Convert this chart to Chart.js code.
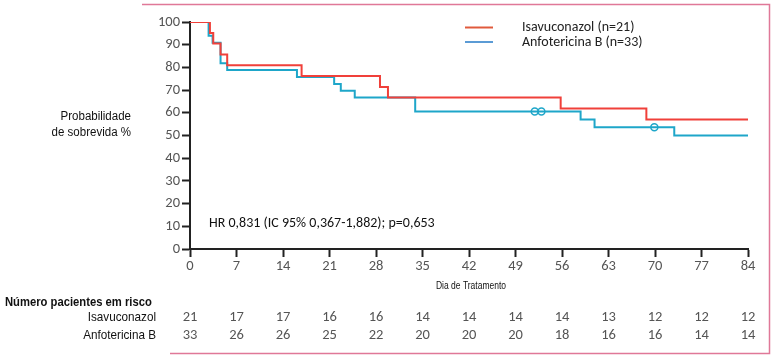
<!DOCTYPE html>
<html><head><meta charset="utf-8">
<script src="https://cdn.jsdelivr.net/npm/chart.js@4"></script>
<style>html,body{margin:0;padding:0;background:#fff}#wrap{position:relative;width:773px;height:360px}</style>
</head><body><div id="wrap"><canvas id="c" width="773" height="360"></canvas></div>
<script>
// ---- data ----
const isaDays = [0, 3, 3.5, 4.6, 5.6, 16.8, 28.6, 29.8, 55.8, 68.7, 84];
const isaSurv = [100, 95.2, 90.5, 85.7, 81.0, 76.2, 71.4, 66.7, 61.9, 57.1, 57.1];
const anfDays = [0, 2.8, 3.4, 4.6, 5.6, 16.1, 21.7, 22.7, 24.8, 33.9, 58.8, 60.9, 72.9, 84];
const anfSurv = [100, 93.9, 90.9, 81.8, 78.8, 75.8, 72.7, 69.7, 66.7, 60.6, 57.0, 53.6, 50.0, 50.0];
const anfCensorDays = [51.9, 52.9, 69.9];
const anfCensorSurv = [60.6, 60.6, 53.6];
const xTicks = [0, 7, 14, 21, 28, 35, 42, 49, 56, 63, 70, 77, 84];
const yTicks = [0, 10, 20, 30, 40, 50, 60, 70, 80, 90, 100];
const riskIsa = [21, 17, 17, 16, 16, 14, 14, 14, 14, 13, 12, 12, 12];
const riskAnf = [33, 26, 26, 25, 22, 20, 20, 20, 18, 16, 16, 14, 14];
const seriesNames = ['Isavuconazol (n=21)', 'Anfotericina B (n=33)'];
const rowNames = ['Isavuconazol', 'Anfotericina B'];
const hrText = 'HR 0,831 (IC 95% 0,367-1,882); p=0,653';

const RED = '#f0403a', BLUE = '#1ea6c9';
const TICKFONT = 'Carlito, Lato, "Open Sans", sans-serif';
const SANS = '"Liberation Sans", Arial, sans-serif';

const toXY = (xs, ys) => xs.map((x, i) => ({x, y: ys[i]}));

function narrowText(ctx, text, x, y, align, font, sx) {
  ctx.save();
  ctx.font = font;
  ctx.textAlign = align;
  ctx.textBaseline = 'middle';
  ctx.translate(x, y);
  ctx.scale(sx, 1);
  ctx.fillText(text, 0, 0);
  ctx.restore();
}

const deco = {
  id: 'deco',
  afterDraw(chart) {
    const ctx = chart.ctx;
    const xs = chart.scales.x;
    ctx.save();
    // legend
    const leg = [['#e05a3c', 27.5], ['#5b9bd5', 42]];
    ctx.lineWidth = 2;
    leg.forEach((l, i) => {
      ctx.strokeStyle = l[0];
      ctx.beginPath(); ctx.moveTo(465, l[1]); ctx.lineTo(493, l[1]); ctx.stroke();
      ctx.fillStyle = '#222';
      ctx.font = '14px ' + TICKFONT;
      ctx.textBaseline = 'middle'; ctx.textAlign = 'left';
      ctx.fillText(seriesNames[i], 522, l[1]);
    });
    // HR text
    ctx.fillStyle = '#111';
    ctx.font = '14px ' + TICKFONT;
    ctx.textAlign = 'left'; ctx.textBaseline = 'middle';
    ctx.fillText(hrText, 209, 223);
    // y title
    ctx.fillStyle = '#111';
    narrowText(ctx, 'Probabilidade', 131, 117, 'right', '12px ' + SANS, 0.96);
    narrowText(ctx, 'de sobrevida %', 131, 133, 'right', '12px ' + SANS, 0.96);
    // x title
    narrowText(ctx, 'Dia de Tratamento', 471, 286, 'center', '10px ' + SANS, 0.85);
    // risk table
    narrowText(ctx, 'Número pacientes em risco', 5, 302, 'left', 'bold 13px ' + SANS, 0.865);
    narrowText(ctx, rowNames[0], 156, 317, 'right', '13px ' + SANS, 0.9);
    narrowText(ctx, rowNames[1], 156, 335, 'right', '13px ' + SANS, 0.9);
    ctx.font = '14.5px ' + TICKFONT;
    ctx.fillStyle = '#555';
    ctx.textAlign = 'center'; ctx.textBaseline = 'middle';
    xTicks.forEach((t, i) => {
      const px = xs.getPixelForValue(t);
      ctx.fillText(String(riskIsa[i]), px, 317);
      ctx.fillText(String(riskAnf[i]), px, 335);
    });
    // pink frame
    ctx.strokeStyle = '#e07898';
    ctx.lineWidth = 1.5;
    ctx.beginPath();
    ctx.moveTo(142, 4.5); ctx.lineTo(769.5, 4.5); ctx.lineTo(769.5, 353.5); ctx.lineTo(170, 353.5);
    ctx.stroke();
    ctx.restore();
  }
};

new Chart(document.getElementById('c'), {
  type: 'line',
  data: {
    datasets: [
      { label: seriesNames[0], data: toXY(isaDays, isaSurv), borderColor: RED, borderWidth: 2,
        stepped: 'before', pointRadius: 0, fill: false, order: 1 },
      { label: seriesNames[1], data: toXY(anfDays, anfSurv), borderColor: BLUE, borderWidth: 2,
        stepped: 'before', pointRadius: 0, fill: false, order: 2 },
      { label: 'censor', data: toXY(anfCensorDays, anfCensorSurv), showLine: false,
        pointRadius: 3.5, pointStyle: 'circle', pointBackgroundColor: 'rgba(0,0,0,0)',
        pointBorderColor: BLUE, pointBorderWidth: 1.5, order: 0 }
    ]
  },
  options: {
    responsive: false, animation: false, devicePixelRatio: 1,
    layout: { padding: { top: 22, right: 25, left: 0, bottom: 0 } },
    plugins: { legend: { display: false }, tooltip: { enabled: false } },
    scales: {
      x: {
        type: 'linear', min: 0, max: 84,
        afterBuildTicks: s => { s.ticks = xTicks.map(v => ({value: v})); },
        afterFit: s => { s.height = 111; },
        ticks: { color: '#555', font: { family: TICKFONT, size: 14.5 }, padding: 1, maxRotation: 0, autoSkip: false },
        grid: { drawOnChartArea: false, drawTicks: true, tickLength: 8, tickWidth: 2, tickColor: '#222' },
        border: { color: '#222', width: 2 }
      },
      y: {
        min: 0, max: 100,
        afterBuildTicks: s => { s.ticks = yTicks.map(v => ({value: v})); },
        afterFit: s => { s.width = 190; },
        ticks: { color: '#555', font: { family: TICKFONT, size: 14.5 }, padding: 2 },
        grid: { drawOnChartArea: false, drawTicks: true, tickLength: 8, tickWidth: 2, tickColor: '#222' },
        border: { color: '#222', width: 2 }
      }
    }
  },
  plugins: [deco]
});
</script></body></html>
